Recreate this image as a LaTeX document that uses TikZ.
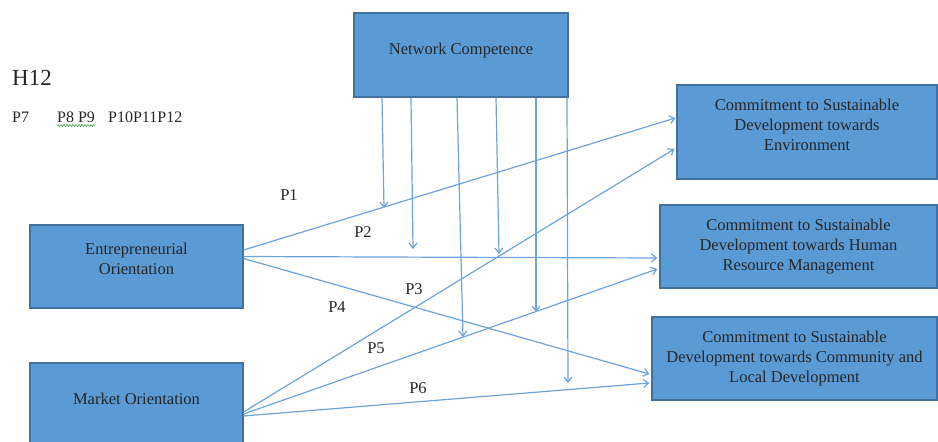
\documentclass[tikz,border=0pt]{standalone}
\usepackage{fontspec}
\setmainfont{Liberation Serif}
\usetikzlibrary{arrows.meta, calc, decorations.pathmorphing}
\definecolor{boxfill}{RGB}{91,155,213}
\definecolor{boxline}{RGB}{65,113,156}
\definecolor{linkblue}{RGB}{108,163,220}
\definecolor{spellgreen}{RGB}{70,165,70}

\begin{document}
\begin{tikzpicture}[x=1pt, y=-1pt, >={Straight Barb[length=5pt, width=8pt]},
  every node/.style={font=\fontsize{16.5}{20}\selectfont, text=black!85},
  factor/.style={draw=boxline, line width=1.2pt, fill=boxfill, align=center, inner sep=0pt},
  link/.style={->, draw=linkblue, line width=1.2pt},
  small/.style={font=\fontsize{16}{19}\selectfont, anchor=west, inner sep=0pt}]
  \clip (0,0) rectangle (938,442);
  % constructs
  \node[factor, minimum width=214, minimum height=84, text depth=12pt] (NC) at (461,55) {Network Competence};
  \node[factor, minimum width=213, minimum height=83, text depth=16pt] (EO) at (136.5,266.5) {Entrepreneurial\\Orientation};
  \node[factor, minimum width=213, minimum height=83, text depth=12pt] (MO) at (136.5,404.5) {Market Orientation};
  \node[factor, minimum width=260, minimum height=94, text depth=15pt] (Env) at (807,132) {Commitment to Sustainable\\Development towards\\Environment};
  \node[factor, minimum width=277, minimum height=83] (HRM) at (798.5,246.5) {Commitment to Sustainable\\Development towards Human\\Resource Management};
  \node[factor, minimum width=285, minimum height=83] (Comm) at (794.5,358.5) {Commitment to Sustainable\\Development towards Community and\\Local Development};
  % direct paths
  \draw[link] ($(EO.east)+(0,-16.5)$) -- ($(Env.west)+(-1,-14)$);
  \draw[link] ($(EO.east)+(0,-10)$) -- ($(HRM.west)+(-2,11.5)$);
  \draw[link] ($(EO.east)+(0,-8)$) -- ($(Comm.west)+(-2,15.5)$);
  \draw[link] ($(MO.east)+(0,7.5)$) -- ($(Env.west)+(-2,17)$);
  \draw[link] ($(MO.east)+(0,9.5)$) -- ($(HRM.west)+(-2,22.5)$);
  \draw[link] ($(MO.east)+(0,11.5)$) -- ($(Comm.west)+(-2,24.5)$);
  % moderating arrows
  \coordinate (m1) at (384,208);
  \coordinate (m2) at (413,249);
  \coordinate (m3) at (463,337);
  \coordinate (m4) at (499,254);
  \coordinate (m5) at (536,312);
  \coordinate (m6) at (568,383);
  \draw[link] ($(NC.south)+(-79,0)$) -- (m1);
  \draw[link] ($(NC.south)+(-50,0)$) -- (m2);
  \draw[link] ($(NC.south)+(-4,0)$) -- (m3);
  \draw[link] ($(NC.south)+(35,0)$) -- (m4);
  \draw[link] ($(NC.south)+(75,0)$) -- (m5);
  \draw[link] ($(NC.south)+(106,0)$) -- (m6);
  % path labels
  \node (P1) at (289,195) {P1};
  \node (P2) at (363,232) {P2};
  \node (P3) at (414,289) {P3};
  \node (P4) at (337,307) {P4};
  \node (P5) at (376,348) {P5};
  \node (P6) at (418,388) {P6};
  \node[font=\fontsize{23}{27}\selectfont] (H12) at (32,78) {H12};
  \node[small] (P7) at (12,117) {P7};
  \node[small] (P89) at (57,117) {P8 P9};
  \node[small] (P1012) at (108,117) {P10P11P12};
  \draw[spellgreen, line width=0.6pt, decorate, decoration={snake, amplitude=1.1, segment length=3}] ($(P89.south west)+(0,3)$) -- ($(P89.south east)+(0,3)$);
\end{tikzpicture}
\end{document}
